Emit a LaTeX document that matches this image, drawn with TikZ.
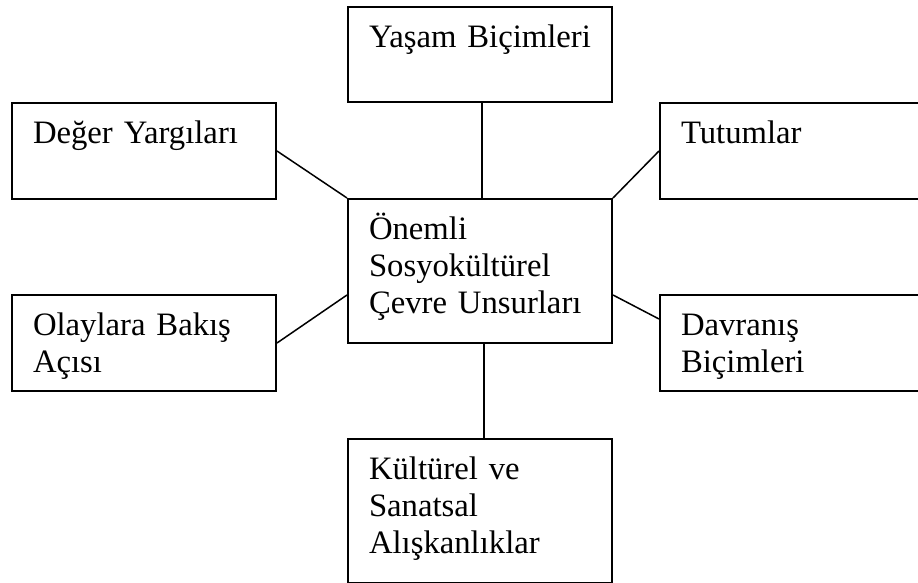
\documentclass[tikz,border=0pt]{standalone}
\usepackage{fontspec}
\setmainfont{Liberation Serif}

\begin{document}
\begin{tikzpicture}[x=0.5pt, y=-0.5pt, line width=0.75pt,
	kutu/.style={draw, line width=1pt, anchor=north west, inner xsep=10.5pt, inner ysep=0pt,
		text width=111pt, text height=20.5pt, text depth=27.5pt, align=left,
		font=\fontsize{16.35}{18.35}\selectfont},
	uzun/.style={kutu, text depth=51.5pt}]
	\useasboundingbox (0,0) rectangle (918,583);
	\node[kutu, text depth=27pt] (yasam) at (347,6)  {Yaşam Biçimleri};
	\node[kutu] (deger) at (11,102)  {Değer Yargıları};
	\node[kutu, text width=114pt] (tutum) at (659,102)  {Tutumlar};
	\node[uzun] (merkez) at (347,198)  {Önemli\\ Sosyokültürel\\ Çevre Unsurları};
	\node[kutu] (olay) at (11,294)  {Olaylara Bakış\\ Açısı};
	\node[kutu, text width=114pt] (davranis) at (659,294)  {Davranış\\ Biçimleri};
	\node[uzun] (kultur) at (347,438)  {Kültürel ve\\ Sanatsal\\ Alışkanlıklar};

		\draw 	(deger.east) edge (merkez.north west)
				([xshift=1pt]yasam.south) edge ([xshift=1pt]merkez.north)
				(tutum.west) edge (merkez.north east)
				(olay.east) edge ([yshift=-12pt]merkez.west)
				([yshift=-12pt]merkez.east) edge ([yshift=12pt]davranis.west)
				([xshift=2pt]merkez.south) edge ([xshift=2pt]kultur.north)
		;
\end{tikzpicture}
\end{document}
